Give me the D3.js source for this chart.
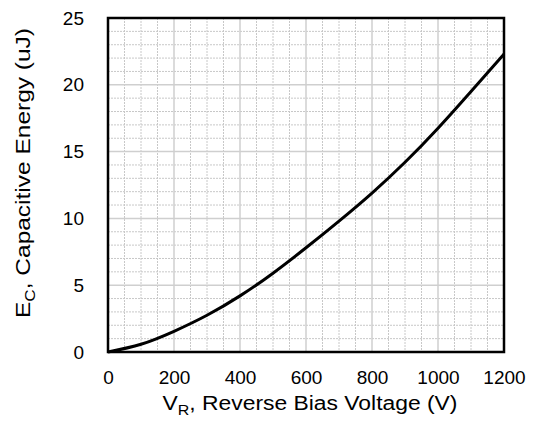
<!DOCTYPE html>
<html><head><meta charset="utf-8">
<script src="https://cdn.jsdelivr.net/npm/d3@7"></script>
<style>body{margin:0;background:#fff}text{font-family:"Liberation Sans",Arial,sans-serif;fill:#000}</style>
</head><body>
<svg id="c" width="535" height="422"></svg>
<script>
const voltage = [0,100,200,300,400,500,600,700,800,900,1000,1100,1200];
const energy  = [0,0.58,1.55,2.75,4.2,5.9,7.8,9.8,11.9,14.2,16.75,19.5,22.3];
const xTicks = [0,200,400,600,800,1000,1200];
const yTicks = [0,5,10,15,20,25];
const xMinor = d3.range(0,1201,50);
const yMinor = d3.range(0,25.01,1);

const L=108,R=504,T=18,B=352;
const svg=d3.select("#c");
const x=d3.scaleLinear().domain([0,1200]).range([L,R]);
const y=d3.scaleLinear().domain([0,25]).range([B,T]);

const g=svg.append("g");
g.selectAll(".vx").data(xMinor.filter(v=>v%200)).join("line")
 .attr("x1",d=>x(d)).attr("x2",d=>x(d)).attr("y1",T).attr("y2",B)
 .attr("stroke","#c8c8c8").attr("stroke-width",1).attr("stroke-dasharray","2,1");
g.selectAll(".hy").data(yMinor.filter(v=>v%5)).join("line")
 .attr("y1",d=>y(d)).attr("y2",d=>y(d)).attr("x1",L).attr("x2",R)
 .attr("stroke","#c8c8c8").attr("stroke-width",1).attr("stroke-dasharray","2,1");
g.selectAll(".vX").data(xTicks).join("line")
 .attr("x1",d=>x(d)).attr("x2",d=>x(d)).attr("y1",T).attr("y2",B)
 .attr("stroke","#cfcfcf").attr("stroke-width",1.5);
g.selectAll(".hY").data(yTicks).join("line")
 .attr("y1",d=>y(d)).attr("y2",d=>y(d)).attr("x1",L).attr("x2",R)
 .attr("stroke","#cfcfcf").attr("stroke-width",1.5);

const line=d3.line().x((d,i)=>x(voltage[i])).y(d=>y(d)).curve(d3.curveNatural);
svg.append("path").datum(energy).attr("d",line).attr("fill","none")
 .attr("stroke","#000").attr("stroke-width",3);

svg.append("rect").attr("x",L).attr("y",T).attr("width",R-L).attr("height",B-T)
 .attr("fill","none").attr("stroke","#000").attr("stroke-width",2.5);

const xa=svg.append("g").attr("transform",`translate(0,${B})`)
 .call(d3.axisBottom(x).tickValues(xTicks).tickFormat(d3.format("d")).tickSize(0).tickPadding(19));
xa.select(".domain").remove();
xa.selectAll("text").attr("font-size",19).style("font-family","Liberation Sans, Arial, sans-serif");
const ya=svg.append("g").attr("transform",`translate(${L},0)`)
 .call(d3.axisLeft(y).tickValues(yTicks).tickSize(0).tickPadding(24));
ya.select(".domain").remove();
ya.selectAll("text").attr("font-size",19).style("font-family","Liberation Sans, Arial, sans-serif");

const xt=svg.append("text").attr("x",310).attr("y",410).attr("text-anchor","middle").attr("font-size",20)
 .attr("textLength",295).attr("lengthAdjust","spacingAndGlyphs");
xt.append("tspan").text("V");
xt.append("tspan").attr("font-size",14).attr("dy",5).text("R");
xt.append("tspan").attr("dy",-5).text(", Reverse Bias Voltage (V)");

const yt=svg.append("text").attr("transform","translate(30,173) rotate(-90)").attr("text-anchor","middle").attr("font-size",20)
 .attr("textLength",290).attr("lengthAdjust","spacingAndGlyphs");
yt.append("tspan").text("E");
yt.append("tspan").attr("font-size",14).attr("dy",5).text("C");
yt.append("tspan").attr("dy",-5).text(", Capacitive Energy (uJ)");
</script>
</body></html>
